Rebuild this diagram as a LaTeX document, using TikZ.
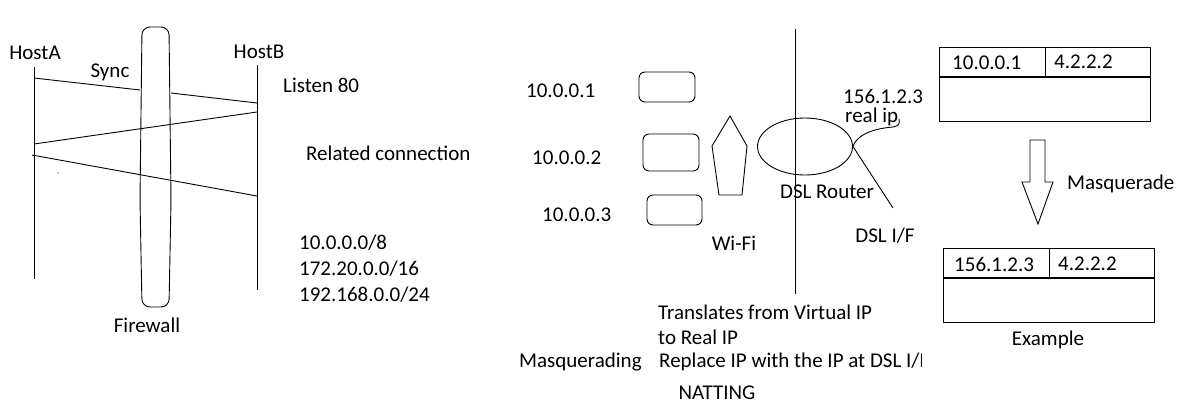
\documentclass[tikz,border=0pt]{standalone}
\usepackage{fontspec}
\setmainfont{Carlito}
\usetikzlibrary{shapes.geometric}
\begin{document}
\begin{tikzpicture}[x=1pt,y=-1pt,
  every node/.style={font=\fontsize{21}{24}\selectfont,inner sep=0pt},
  lbl/.style={anchor=west},
  ln/.style={line width=0.9pt},
  thick2/.style={line width=1.8pt},
  dev/.style={draw,line width=0.9pt,rounded corners=6pt}]
\useasboundingbox (0,0) rectangle (1189,418);
% ---------- left: firewall ----------
\node (hosta) at (35,53) {HostA};
\node (hostb) at (259,52) {HostB};
\node (sync) at (110,72) {Sync};
\node (fwlabel) at (147,325) {Firewall};
\coordinate (a1) at (34,67); \coordinate (a2) at (34,279);
\coordinate (b1) at (257,65); \coordinate (b2) at (257,290);
\draw[ln] (a1) -- (a2);
\draw[ln] (b1) -- (b2);
\draw[ln,rounded corners=8pt] (142,307) -- (140,200) -- (142,27) -- (169,27) -- (171,200) -- (169,307) -- cycle;
\coordinate (fwL) at (140,90); \coordinate (fwR) at (171,93);
\draw[ln] (34,78) -- (fwL);
\draw[ln] (fwR) -- (257,103);
\draw[ln] (257,112) -- (34,144);
\draw[ln] (32,155) -- (257,196);
\fill (58,173) circle (0.6);
\node[lbl] (listen) at (283,85) {Listen 80};
\node[lbl] (related) at (306,153) {Related connection};
\node[lbl] (net1) at (299,243) {10.0.0.0/8};
\node[lbl] (net2) at (299,269) {172.20.0.0/16};
\node[lbl] (net3) at (299,295) {192.168.0.0/24};
% ---------- middle: NAT ----------
\node[lbl] (ip1) at (526,91) {10.0.0.1};
\node[lbl] (ip2) at (532,158) {10.0.0.2};
\node[lbl] (ip3) at (542,215) {10.0.0.3};
\draw[dev] (639,72) rectangle (695,102);
\draw[dev] (643,134) rectangle (699,171);
\draw[dev] (647,195) rectangle (702,225);
\draw[ln] (730,116) -- (747,146) -- (742,195) -- (719,195) -- (712,146) -- cycle;
\node (wifi) at (734,243) {Wi-Fi};
\draw[ln] (795,29) -- (795,294);
\node[draw,ellipse,ln,minimum width=95pt,minimum height=57pt] (router) at (805,146.5) {};
\node (dsl) at (827,192) {DSL Router};
\node[lbl] (realip1) at (843,96) {156.1.2.3};
\node[lbl] (realip2) at (845,117) {real ip};
\draw[ln] (router.east) .. controls (858,132) and (880,128) .. (893,127) .. controls (899,126) and (900,123) .. (899,119);
\coordinate (dslif) at (893,208);
\draw[ln] (router.east) -- (dslif);
\node (dsliflabel) at (885,236) {DSL I/F};
\node[lbl] (tr1) at (658,312) {Translates from Virtual IP};
\node[lbl] (tr2) at (658,337) {to Real IP};
\node[lbl] (masq) at (519,362) {Masquerading};
\begin{scope}
\clip (640,345) rectangle (921.5,380);
\node[lbl] (repl) at (659,362) {Replace IP with the IP at DSL I/F};
\end{scope}
\node (nat) at (717,393) {NATTING};
% ---------- right: packets ----------
\draw[ln] (939,47) rectangle (1150,121);
\draw[thick2] (939,77) -- (1150,77);
\draw[ln] (1045,47) -- (1045,77);
\node[lbl] (p1s) at (952,63) {10.0.0.1};
\node[lbl] (p1d) at (1054,62) {4.2.2.2};
\draw[ln] (1030,140) -- (1045,140) -- (1045,182) -- (1053,182) -- (1038,224) -- (1022,182) -- (1030,182) -- cycle;
\node[lbl] (masqr) at (1067,184) {Masquerade};
\draw[ln] (943,248) rectangle (1154,322);
\draw[thick2] (943,278) -- (1154,278);
\draw[ln] (1049,248) -- (1049,278);
\node[lbl] (p2s) at (954,264) {156.1.2.3};
\node[lbl] (p2d) at (1058,264) {4.2.2.2};
\node (example) at (1048,340) {Example};
\end{tikzpicture}
\end{document}
